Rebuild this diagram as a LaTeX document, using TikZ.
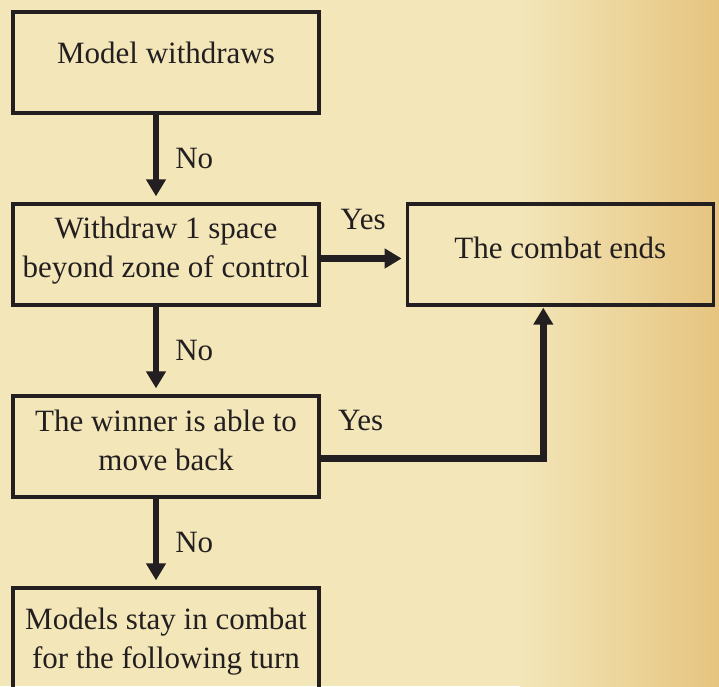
\documentclass[tikz,border=0pt]{standalone}
\usepackage{fontspec}
\setmainfont{Liberation Serif}
\usetikzlibrary{positioning,arrows.meta}

\definecolor{parchment}{HTML}{F3E6B9}
\definecolor{parchdark}{HTML}{E6C47F}
\definecolor{ink}{HTML}{231F20}

\begin{document}
\begin{tikzpicture}[->,>={Triangle[length=17pt,width=19pt]},node distance=87.7pt,
    box/.style={rectangle,draw=ink,line width=3.3pt,minimum width=306pt,minimum height=101pt,align=center,text=ink,font=\fontsize{31}{39}\selectfont},
    lift/.style={text depth=#1},
    lbl/.style={text=ink,inner sep=0pt,font=\fontsize{31}{39}\selectfont},
    flow/.style={draw=ink,line width=6.5pt}]
    % paper
    \fill[parchment] (0,0) rectangle (719pt,686pt);
    \shade[left color=parchment,right color=parchdark] (520pt,0) rectangle (719pt,686pt);
    \useasboundingbox (0,0) rectangle (719pt,686pt);

    \node [box, lift=20pt] (withdraws) at (166pt,623.5pt) {Model withdraws};
    \node [box, lift=14.7pt, below=of withdraws] (retreat) {Withdraw 1 space\\beyond zone of control};
    \node [box, lift=14pt, right=85pt of retreat] (ends) {The combat ends};
    \node [box, lift=12pt, below=of retreat] (moveback) {The winner is able to\\move back};
    \node [box, lift=0.7pt, below=of moveback] (stay) {Models stay in combat\\for the following turn};

    % no branches
    \draw [flow, shorten >=6pt] ([xshift=-10pt]withdraws.south) -- node[lbl, right=16pt] (no1) {No} ([xshift=-10pt]retreat.north);
    \draw [flow, shorten >=6pt] ([xshift=-10pt]retreat.south) -- node[lbl, right=16pt] (no2) {No} ([xshift=-10pt]moveback.north);
    \draw [flow, shorten >=6pt] ([xshift=-10pt]moveback.south) -- node[lbl, right=16pt] (no3) {No} ([xshift=-10pt]stay.north);

    % yes branches
    \draw [flow, shorten >=4pt] ([yshift=-4pt]retreat.east) -- node[lbl, above=25pt] (yes1) {Yes} ([yshift=-4pt]ends.west);
    \draw [flow, shorten >=1pt] ([yshift=-12pt]moveback.east) -| node[lbl, above=24pt, pos=0.09] (yes2) {Yes} ([xshift=-17pt]ends.south);
\end{tikzpicture}
\end{document}
